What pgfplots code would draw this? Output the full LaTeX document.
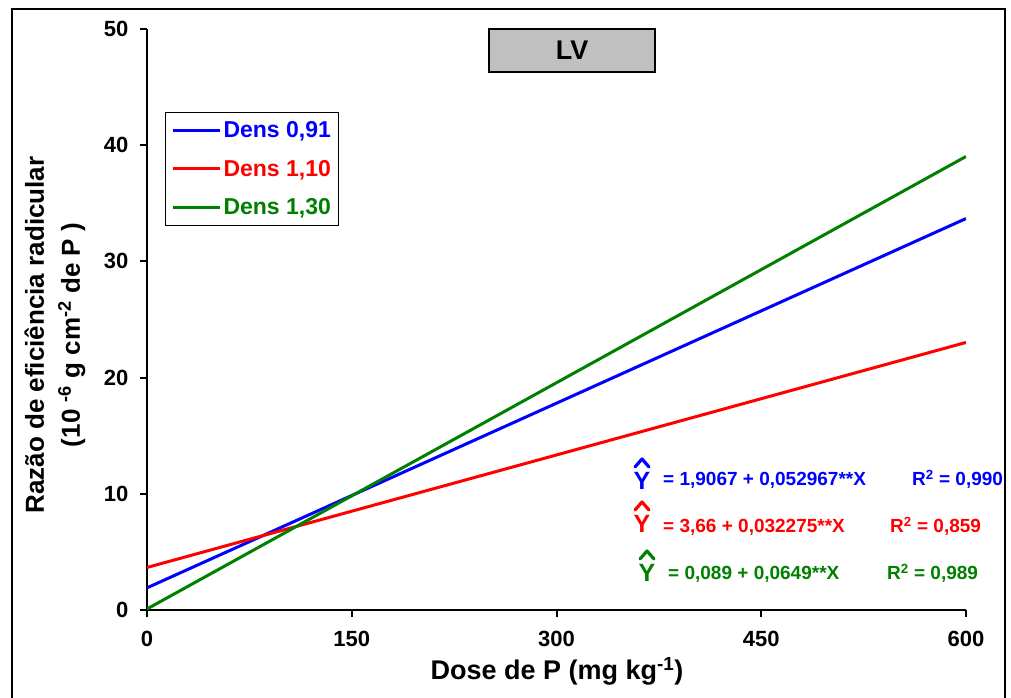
\documentclass[border=0pt]{standalone}
\usepackage{fontspec}
\setmainfont{Liberation Sans}
\usepackage{pgfplots}
\pgfplotsset{compat=1.18}
\usetikzlibrary{calc}
\definecolor{cblue}{RGB}{0,0,255}
\definecolor{cred}{RGB}{255,0,0}
\definecolor{cgreen}{RGB}{0,128,0}
\definecolor{cgray}{RGB}{192,192,192}
% hat-Y symbol: colour, x centre, baseline of Y
\newcommand{\yhat}[3]{%
  \node[anchor=base, inner sep=0pt, text=#1, font=\fontsize{25}{28}\selectfont\bfseries] at (#2,#3) {Y};
  \draw[#1, line width=3.2pt, line join=round, line cap=round]
    ($(#2,#3)+(-7,23)$) -- ($(#2,#3)+(0,31)$) -- ($(#2,#3)+(7,23)$);
}
\begin{document}
\begin{tikzpicture}[x=1pt,y=1pt]
\useasboundingbox (0,0) rectangle (1011,698);
\draw[line width=2.4pt] (12,689) rectangle (1005,-10);
\begin{axis}[
  at={(147pt,88pt)}, anchor=south west,
  scale only axis, width=819pt, height=581pt,
  xmin=0, xmax=600, ymin=0, ymax=50,
  axis x line*=bottom, axis y line*=left,
  axis line style={line width=2.6pt,-},
  xtick={0,150,300,450,600}, ytick={0,10,20,30,40,50},
  tick align=outside, major tick length=7pt,
  tick style={line width=2pt,black},
  ticklabel style={font=\fontsize{22}{26}\selectfont\bfseries},
  /pgf/number format/assume math mode=true,
  xticklabel style={yshift=-11pt},
  yticklabel style={xshift=-8pt},
  legend style={at={(0.022,0.857)}, anchor=north west, draw=black, line width=1pt,
    font=\fontsize{23}{27}\selectfont\bfseries, inner xsep=6pt, inner ysep=7pt, row sep=17pt},
  legend cell align=left,
  legend image code/.code={\draw[#1, line width=3pt] (0pt,0pt) -- (47pt,0pt);},
]
\addplot[cblue, line width=3pt] coordinates {(0,1.9067) (150,9.8518) (300,17.7968) (450,25.7419) (600,33.6869)};
\addlegendentry{\textcolor{cblue}{Dens 0,91}}
\addplot[cred, line width=3pt] coordinates {(0,3.66) (150,8.5013) (300,13.3425) (450,18.1838) (600,23.025)};
\addlegendentry{\textcolor{cred}{Dens 1,10}}
\addplot[cgreen, line width=3pt] coordinates {(0,0.089) (150,9.824) (300,19.559) (450,29.294) (600,39.029)};
\addlegendentry{\textcolor{cgreen}{Dens 1,30}}
\end{axis}
% title box
\draw[line width=1.5pt, fill=cgray] (489,669) rectangle (655,626);
\node[font=\fontsize{27}{30}\selectfont\bfseries] at (572,647.5) {LV};
% axis labels
\node[rotate=90, align=center, font=\fontsize{26}{36}\selectfont\bfseries] at (55,363)
  {Razão de eficiência radicular\\(10 \textsuperscript{-6} g cm\textsuperscript{-2} de P )};
\node[font=\fontsize{27}{30}\selectfont\bfseries] at (557,27) {Dose de P (mg kg\textsuperscript{-1})};
% equations
\yhat{cblue}{642}{208}
\node[anchor=base west, inner sep=0pt, text=cblue, font=\fontsize{19}{22}\selectfont\bfseries] at (663,212) {= 1,9067 + 0,052967**X};
\node[anchor=base west, inner sep=0pt, text=cblue, font=\fontsize{19}{22}\selectfont\bfseries] at (912,212) {R\textsuperscript{2} = 0,990};
\yhat{cred}{642}{165}
\node[anchor=base west, inner sep=0pt, text=cred, font=\fontsize{19}{22}\selectfont\bfseries] at (663,165) {= 3,66 + 0,032275**X};
\node[anchor=base west, inner sep=0pt, text=cred, font=\fontsize{19}{22}\selectfont\bfseries] at (890,165) {R\textsuperscript{2} = 0,859};
\yhat{cgreen}{647}{116}
\node[anchor=base west, inner sep=0pt, text=cgreen, font=\fontsize{19}{22}\selectfont\bfseries] at (668,118) {= 0,089 + 0,0649**X};
\node[anchor=base west, inner sep=0pt, text=cgreen, font=\fontsize{19}{22}\selectfont\bfseries] at (887,118) {R\textsuperscript{2} = 0,989};
\end{tikzpicture}
\end{document}
